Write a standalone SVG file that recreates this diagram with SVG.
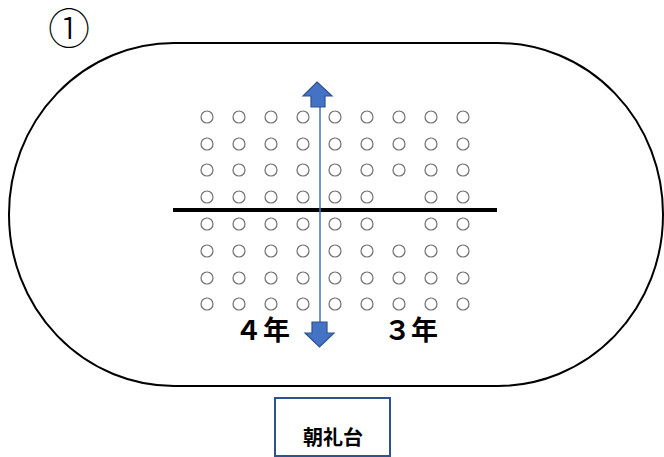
<svg xmlns="http://www.w3.org/2000/svg" width="664" height="457" viewBox="0 0 664 457">
<style>
.seat{fill:none;stroke:#707070;stroke-width:1.2}
.lbl{font-family:"Noto Sans CJK JP","Noto Sans",sans-serif;font-weight:bold;fill:#000}
.arrow{fill:#4472C4;stroke:#2F528F;stroke-width:1.2}
</style>
<defs>
<circle id="s" r="6" class="seat"/>
</defs>
<rect width="664" height="457" fill="#fff"/>
<g id="title"><text x="69" y="44" text-anchor="middle" font-family="'Noto Sans CJK JP','DejaVu Sans',sans-serif" font-weight="300" font-size="42" fill="#000">①</text></g>
<g id="track"><rect x="9" y="43" width="654" height="343" rx="165" ry="171" fill="none" stroke="#000" stroke-width="2"/></g>
<g id="seats">
<g id="row1"><use href="#s" x="207" y="117"/><use href="#s" x="239" y="117"/><use href="#s" x="271" y="117"/><use href="#s" x="303" y="117"/><use href="#s" x="335" y="117"/><use href="#s" x="367" y="117"/><use href="#s" x="399" y="117"/><use href="#s" x="431" y="117"/><use href="#s" x="463" y="117"/></g>
<g id="row2"><use href="#s" x="207" y="144"/><use href="#s" x="239" y="144"/><use href="#s" x="271" y="144"/><use href="#s" x="303" y="144"/><use href="#s" x="335" y="144"/><use href="#s" x="367" y="144"/><use href="#s" x="399" y="144"/><use href="#s" x="431" y="144"/><use href="#s" x="463" y="144"/></g>
<g id="row3"><use href="#s" x="207" y="170"/><use href="#s" x="239" y="170"/><use href="#s" x="271" y="170"/><use href="#s" x="303" y="170"/><use href="#s" x="335" y="170"/><use href="#s" x="367" y="170"/><use href="#s" x="399" y="170"/><use href="#s" x="431" y="170"/><use href="#s" x="463" y="170"/></g>
<g id="row4"><use href="#s" x="207" y="197"/><use href="#s" x="239" y="197"/><use href="#s" x="271" y="197"/><use href="#s" x="303" y="197"/><use href="#s" x="335" y="197"/><use href="#s" x="367" y="197"/><use href="#s" x="431" y="197"/><use href="#s" x="463" y="197"/></g>
<g id="row5"><use href="#s" x="207" y="224"/><use href="#s" x="239" y="224"/><use href="#s" x="271" y="224"/><use href="#s" x="303" y="224"/><use href="#s" x="335" y="224"/><use href="#s" x="367" y="224"/><use href="#s" x="431" y="224"/><use href="#s" x="463" y="224"/></g>
<g id="row6"><use href="#s" x="207" y="251"/><use href="#s" x="239" y="251"/><use href="#s" x="271" y="251"/><use href="#s" x="303" y="251"/><use href="#s" x="335" y="251"/><use href="#s" x="367" y="251"/><use href="#s" x="399" y="251"/><use href="#s" x="431" y="251"/><use href="#s" x="463" y="251"/></g>
<g id="row7"><use href="#s" x="207" y="278"/><use href="#s" x="239" y="278"/><use href="#s" x="271" y="278"/><use href="#s" x="303" y="278"/><use href="#s" x="335" y="278"/><use href="#s" x="367" y="278"/><use href="#s" x="399" y="278"/><use href="#s" x="431" y="278"/><use href="#s" x="463" y="278"/></g>
<g id="row8"><use href="#s" x="207" y="304"/><use href="#s" x="239" y="304"/><use href="#s" x="271" y="304"/><use href="#s" x="303" y="304"/><use href="#s" x="335" y="304"/><use href="#s" x="367" y="304"/><use href="#s" x="399" y="304"/><use href="#s" x="431" y="304"/><use href="#s" x="463" y="304"/></g>
</g>
<g id="connectors">
<line x1="173" y1="210" x2="497" y2="210" stroke="#000" stroke-width="4"/>
<line x1="320" y1="104" x2="320" y2="323" stroke="#4472C4" stroke-width="1.5"/>
<polygon class="arrow" points="317,82 332,96 325,96 325,107 311,107 311,96 303,96"/>
<polygon class="arrow" points="312,322 327,322 327,333 334,333 319.5,347 305,333 312,333"/>
</g>
<g id="label4"><text class="lbl" x="235" y="340" font-size="27" letter-spacing="1">４年</text></g>
<g id="label3"><text class="lbl" x="384" y="340" font-size="27">３年</text></g>
<g id="stage">
<rect x="275" y="398" width="115" height="58" fill="#fff" stroke="#2F528F" stroke-width="2"/>
<text class="lbl" x="333" y="445" text-anchor="middle" font-size="20">朝礼台</text>
</g>
</svg>
